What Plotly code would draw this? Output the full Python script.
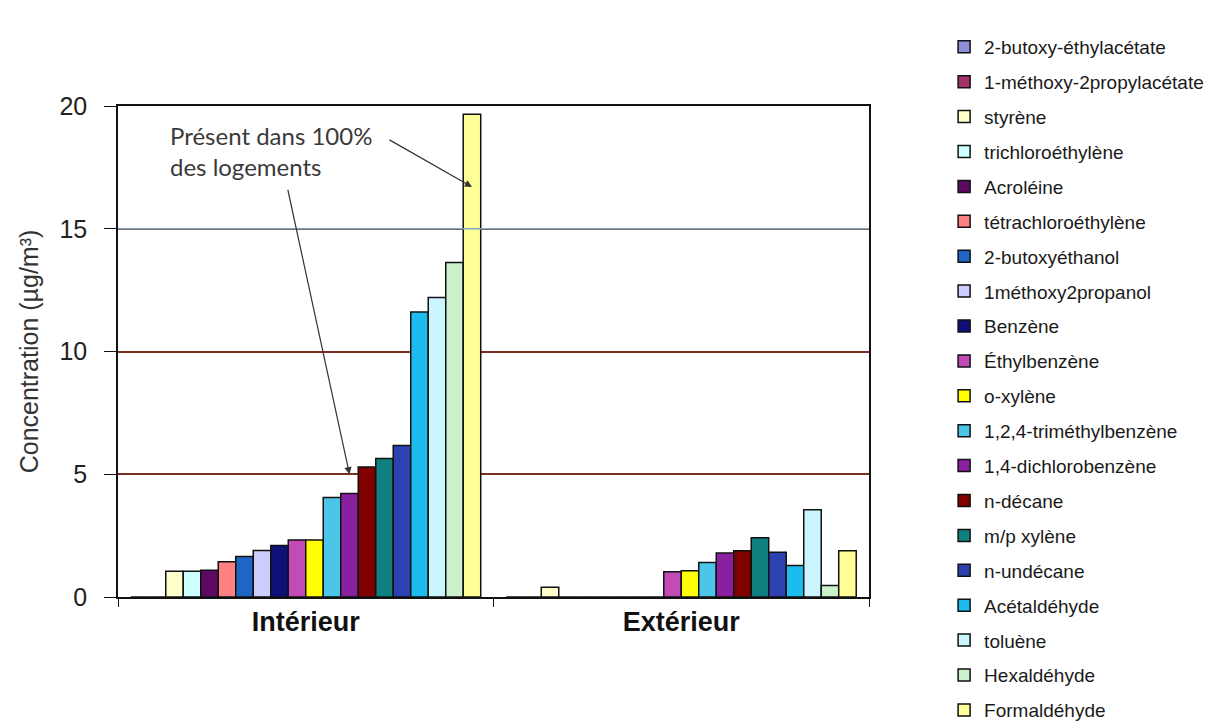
import plotly.graph_objects as go

categories = ["Intérieur", "Extérieur"]

compounds = [
    "2-butoxy-éthylacétate", "1-méthoxy-2propylacétate", "styrène", "trichloroéthylène",
    "Acroléine", "tétrachloroéthylène", "2-butoxyéthanol", "1méthoxy2propanol",
    "Benzène", "Éthylbenzène", "o-xylène", "1,2,4-triméthylbenzène",
    "1,4-dichlorobenzène", "n-décane", "m/p xylène", "n-undécane",
    "Acétaldéhyde", "toluène", "Hexaldéhyde", "Formaldéhyde",
]

interieur = [0, 0, 1.05, 1.05, 1.09, 1.44, 1.65, 1.89, 2.10, 2.32,
             2.32, 4.05, 4.22, 5.30, 5.64, 6.17, 11.61, 12.20, 13.63, 19.66]
exterieur = [0, 0, 0.40, 0, 0, 0, 0, 0, 0, 1.03,
             1.07, 1.41, 1.79, 1.88, 2.41, 1.82, 1.28, 3.55, 0.47, 1.88]

colors = [
    "#8f8fdc", "#a3326b", "#ffffcc", "#ccffff", "#5e0a63", "#ff8080", "#1f66c4", "#ccccff",
    "#10107a", "#c24bb8", "#ffff00", "#4cc6e8", "#8a20a0", "#800000", "#0f8080", "#2b42b0",
    "#1cbcee", "#ccf6ff", "#ccf2cc", "#ffff99",
]

y_ticks = [0, 5, 10, 15, 20]
note_text = "Présent dans 100%<br>des logements"

fig = go.Figure()
for i, name in enumerate(compounds):
    fig.add_trace(go.Bar(
        name=name, x=categories, y=[interieur[i], exterieur[i]],
        marker=dict(color=colors[i], line=dict(color="#111111", width=1.5)),
        legendgroup=name,
    ))

bargap = 0.068
n = len(compounds)
bw = (1 - bargap) / n

def bar_center(idx):
    return -(1 - bargap) / 2 + (idx + 0.5) * bw

fig.update_layout(
    width=1206, height=714,
    margin=dict(l=110, r=345, t=98, b=125, autoexpand=False),
    paper_bgcolor="white", plot_bgcolor="white",
    barmode="group", bargap=bargap, bargroupgap=0,
    font=dict(family="Liberation Sans, Arial", color="#222222"),
    legend=dict(
        x=1.1, xanchor="left", y=1.159, yanchor="top",
        maxheight=720,
        font=dict(size=19, color="#1a1a1a", family="Liberation Sans, Arial"),
        tracegroupgap=7.2, traceorder="grouped", bgcolor="rgba(0,0,0,0)",
    ),
    xaxis=dict(
        type="category", showline=True, linecolor="#111111", linewidth=1.5,
        mirror=True, ticks="outside", tickson="boundaries", ticklen=8,
        tickcolor="#111111", showgrid=False,
        tickfont=dict(size=27, family="Liberation Sans, Arial", color="#111111", weight="bold"),
    ),
    yaxis=dict(
        range=[0, 20], tickvals=y_ticks, showline=True, linecolor="#111111",
        linewidth=1.5, mirror=True, ticks="outside", ticklen=12, tickcolor="#111111",
        ticklabelstandoff=12,
        showgrid=True, gridcolor="#7a2e1e", gridwidth=1.5, zeroline=False,
        tickfont=dict(size=25, color="#222222"),
        title=dict(text="Concentration (µg/m³)", font=dict(size=25, color="#333333"), standoff=14),
    ),
)

fig.add_shape(type="line", xref="paper", yref="y", x0=0, x1=1, y0=15, y1=15,
              line=dict(color="#7fa6c2", width=1.5), layer="above")

fig.add_annotation(
    xref="paper", yref="paper", x=0.066, y=0.974, xanchor="left", yanchor="top",
    text=note_text, showarrow=False, align="left",
    font=dict(family="Lato", size=24, color="#3a3a3a"),
)
fig.add_annotation(
    xref="x", yref="y", x=bar_center(19), y=16.7, ax=-84, ay=-48,
    text="", showarrow=True, arrowhead=2, arrowsize=1.2, arrowwidth=1.2, arrowcolor="#333333",
)
fig.add_annotation(
    xref="x", yref="y", x=bar_center(12), y=5.0, ax=-62, ay=-286,
    text="", showarrow=True, arrowhead=2, arrowsize=1.2, arrowwidth=1.2, arrowcolor="#333333",
)

fig.write_html("out.html")
